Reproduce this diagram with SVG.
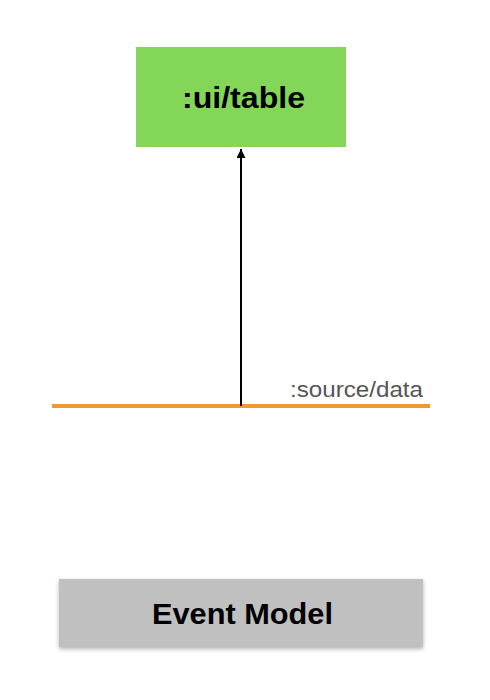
<svg xmlns="http://www.w3.org/2000/svg" width="490" height="700" viewBox="0 0 490 700">
<defs>
<marker id="arrow" viewBox="0 0 10 10" refX="10" refY="5" markerWidth="9" markerHeight="9" markerUnits="userSpaceOnUse" orient="auto">
<path d="M0,0 L10,5 L0,10 z" fill="#000"/>
</marker>
<filter id="shadow" x="-5%" y="-10%" width="110%" height="130%">
<feDropShadow dx="0" dy="2" stdDeviation="2" flood-color="#000" flood-opacity="0.3"/>
</filter>
</defs>
<style>
.label{font-family:"Liberation Sans",Arial,sans-serif;font-weight:bold;font-size:29px;fill:#000}
.stream{font-family:"Liberation Sans",Arial,sans-serif;font-size:22px;fill:#555}
</style>
<rect width="490" height="700" fill="#fff"/>
<g id="connectors">
<line x1="52" y1="406" x2="430" y2="406" stroke="#f0992f" stroke-width="4"/>
<line x1="241" y1="406" x2="241" y2="149" stroke="#000" stroke-width="2" marker-end="url(#arrow)"/>
</g>
<g id="ui-table">
<rect x="136" y="47" width="210" height="100" fill="#84d658"/>
<text class="label" x="182" y="108" textLength="123" lengthAdjust="spacingAndGlyphs">:ui/table</text>
</g>
<g id="source-data">
<text class="stream" x="290" y="397" textLength="133" lengthAdjust="spacingAndGlyphs">:source/data</text>
</g>
<g id="event-model">
<rect x="59" y="579" width="364" height="68" fill="#c0c0c0" filter="url(#shadow)"/>
<text class="label" x="152" y="624" textLength="181" lengthAdjust="spacingAndGlyphs">Event Model</text>
</g>
</svg>
